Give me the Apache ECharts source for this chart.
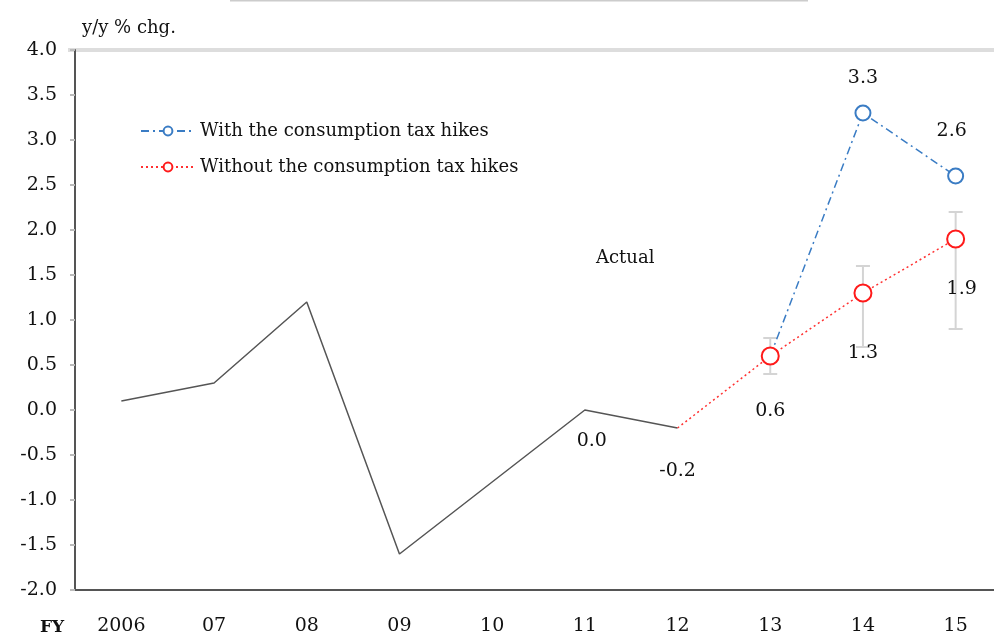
<!doctype html>
<html>
<head>
<meta charset="utf-8">
<title>y/y % chg.</title>
<script src="https://cdn.jsdelivr.net/npm/echarts@6/dist/echarts.min.js"></script>
<style>
    html,body{margin:0;padding:0;background:#fff;}
    #main{width:994px;height:637px;}
</style>
</head>
<body>
<div id="main"></div>
<script>
    var years = ['2006','07','08','09','10','11','12','13','14','15'];
    var actual = [0.1, 0.3, 1.2, -1.6, -0.8, 0.0, -0.2, '-', '-', '-'];
    var withHike = ['-', '-', '-', '-', '-', '-', '-', 0.6, 3.3, 2.6];
    var withoutHike = ['-', '-', '-', '-', '-', '-', -0.2, 0.6, 1.3, 1.9];
    // forecast range: [year index, low, high]
    var ranges = [[7, 0.4, 0.8], [8, 0.7, 1.6], [9, 0.9, 2.2]];
    var yTicks = {min: -2, max: 4, step: 0.5};

    var serif = 'DejaVu Serif';
    var fmt1 = function(p){ return p.value.toFixed(1); };

    function lbl(pos, dx, dy){
        return {show:true, position:pos, offset:[dx, dy], color:'#111',
            fontFamily:serif, fontSize:19, formatter:fmt1};
    }

    var chart = echarts.init(document.getElementById('main'));
    var option = {
        animation:false,
        textStyle:{fontFamily:serif},
        grid:{left:75, top:50, width:927, bottom:47, outerBoundsMode:'none', containLabel:false},
        legend:{
            orient:'vertical', left:135, top:117, itemGap:18,
            itemWidth:54, itemHeight:11,
            textStyle:{fontFamily:serif, fontSize:18, color:'#111'},
            data:['With the consumption tax hikes','Without the consumption tax hikes']
        },
        xAxis:{
            type:'category', data:years, boundaryGap:true,
            axisLine:{onZero:false, lineStyle:{color:'#555', width:2}},
            axisTick:{inside:true, length:8, lineStyle:{color:'#999'}},
            axisLabel:{color:'#111', fontFamily:serif, fontSize:19, margin:27}
        },
        yAxis:{
            type:'value', min:yTicks.min, max:yTicks.max, interval:yTicks.step,
            axisLine:{show:true, lineStyle:{color:'#555', width:2}},
            axisTick:{show:true, length:5, lineStyle:{color:'#bbb', width:2}},
            splitLine:{show:false},
            axisLabel:{color:'#111', fontFamily:serif, fontSize:19, margin:18,
                formatter:function(v){return v.toFixed(1);}}
        },
        graphic:[
            {type:'line', shape:{x1:68, y1:50, x2:994, y2:50}, style:{stroke:'#ddd', lineWidth:4}, z:-1},
            {type:'line', shape:{x1:230, y1:0.5, x2:808, y2:0.5}, style:{stroke:'#ccc', lineWidth:2}},
            {type:'text', left:82, top:19, style:{text:'y/y % chg.', fontFamily:serif, fontSize:18, fill:'#111'}},
            {type:'text', left:40, top:619, style:{text:'FY', fontFamily:serif, fontSize:17, fontWeight:'bold', fill:'#111'}},
            {type:'text', left:596, top:249, style:{text:'Actual', fontFamily:serif, fontSize:18, fill:'#111'}}
        ],
        series:[
            {
                name:'range', type:'custom', z:1,
                renderItem:function(params, api){
                    var top = api.coord([api.value(0), api.value(2)]);
                    var bot = api.coord([api.value(0), api.value(1)]);
                    var st = {stroke:'#d4d4d4', lineWidth:2};
                    return {type:'group', children:[
                        {type:'line', shape:{x1:top[0], y1:top[1], x2:bot[0], y2:bot[1]}, style:st},
                        {type:'line', shape:{x1:top[0]-7, y1:top[1], x2:top[0]+7, y2:top[1]}, style:st},
                        {type:'line', shape:{x1:bot[0]-7, y1:bot[1], x2:bot[0]+7, y2:bot[1]}, style:st}
                    ]};
                },
                data:ranges
            },
            {
                name:'Actual', type:'line', z:2,
                symbol:'circle', symbolSize:0.1, showSymbol:true,
                itemStyle:{color:'#555'},
                lineStyle:{color:'#555', width:1.5},
                data:actual.map(function(v, i){
                    if(i === 5) return {value:v, label:lbl('bottom', 7, 17)};
                    if(i === 6) return {value:v, label:lbl('bottom', 0, 29)};
                    return v;
                })
            },
            {
                name:'With the consumption tax hikes', type:'line', z:3,
                symbol:'emptyCircle', symbolSize:15,
                itemStyle:{color:'#3a7cc4', borderWidth:3},
                lineStyle:{color:'#3a7cc4', width:1.5, type:[8,4,2,4]},
                label:lbl('top', 0, -12),
                data:withHike.map(function(v, i){
                    if(i === 7) return {value:v, symbol:'none', label:{show:false}};
                    if(i === 9) return {value:v, label:{offset:[-4, -22]}};
                    return v;
                })
            },
            {
                name:'Without the consumption tax hikes', type:'line', z:4,
                symbol:'emptyCircle', symbolSize:17,
                itemStyle:{color:'#ff1a1a', borderWidth:3},
                lineStyle:{color:'#ff3030', width:1.5, type:[2,3]},
                label:lbl('bottom', 0, 31),
                data:withoutHike.map(function(v, i){
                    if(i === 6) return {value:v, symbol:'none', label:{show:false}};
                    if(i === 9) return {value:v, label:{offset:[6, 26]}};
                    if(i === 8) return {value:v, label:{offset:[0, 36]}};
                    return v;
                })
            }
        ]
    };

    chart.setOption(option);
</script>
</body>
</html>
